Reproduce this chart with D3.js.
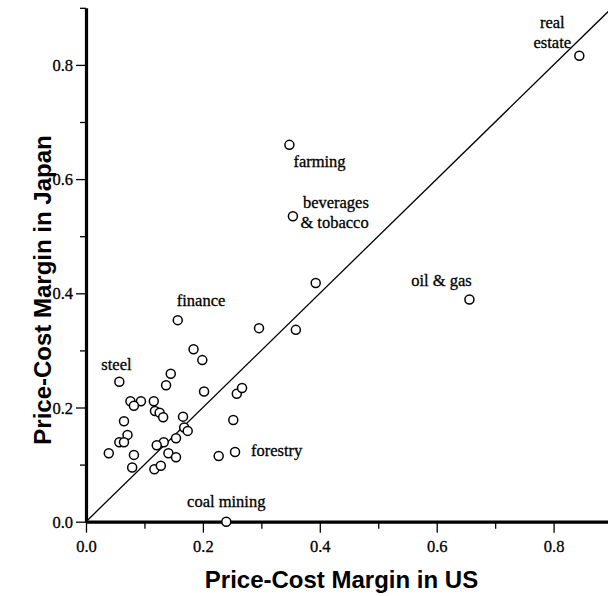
<!DOCTYPE html>
<html>
<head>
<meta charset="utf-8">
<script src="https://cdn.jsdelivr.net/npm/d3@7"></script>
<style>
  html, body { margin: 0; padding: 0; background: #fff; }
  svg { display: block; }
  .tick text { font-family: "Liberation Serif", "Times New Roman", serif; font-size: 16.5px; fill: #000; stroke: #000; stroke-width: 0.3px; }
  .note { font-family: "Liberation Serif", "Times New Roman", serif; font-size: 16.5px; fill: #000; stroke: #000; stroke-width: 0.3px; }
  .title { font-family: "Liberation Sans", Arial, Helvetica, sans-serif; font-size: 24px; font-weight: bold; fill: #000; }
</style>
</head>
<body>
<svg id="chart" width="608" height="596"></svg>
<script>
// Industry price-cost margins, US (x) vs Japan (y)
const industry = [
  "real estate", "farming", "beverages & tobacco", "oil & gas", "finance",
  "steel", "forestry", "coal mining",
  "", "", "", "", "", "", "", "", "", "", "", "", "", "", "", "", "", "", "",
  "", "", "", "", "", "", "", "", "", "", "", "", "", "", "", "", ""
];
const usMargin = [
  0.844, 0.348, 0.354, 0.656, 0.157, 0.057, 0.255, 0.240,
  0.393, 0.296, 0.359, 0.184, 0.199, 0.145, 0.137, 0.202, 0.258, 0.267,
  0.076, 0.094, 0.082, 0.116, 0.118, 0.126, 0.132, 0.166, 0.252, 0.065,
  0.071, 0.168, 0.174, 0.057, 0.065, 0.133, 0.121, 0.154, 0.039, 0.082,
  0.141, 0.154, 0.227, 0.079, 0.117, 0.128
];
const japanMargin = [
  0.816, 0.660, 0.535, 0.389, 0.353, 0.245, 0.122, 0.000,
  0.418, 0.339, 0.336, 0.302, 0.283, 0.259, 0.239, 0.228, 0.224, 0.234,
  0.211, 0.211, 0.203, 0.211, 0.194, 0.191, 0.183, 0.184, 0.178, 0.176,
  0.152, 0.165, 0.159, 0.139, 0.139, 0.139, 0.134, 0.146, 0.120, 0.117,
  0.120, 0.113, 0.115, 0.095, 0.092, 0.098
];
const majorTicks = [0.0, 0.2, 0.4, 0.6, 0.8];
const minorTicks = [0.1, 0.3, 0.5, 0.7, 0.9];
const tickLabels = ["0.0", "0.2", "0.4", "0.6", "0.8"];
const xTitle = "Price-Cost Margin in US";
const yTitle = "Price-Cost Margin in Japan";

// Label placement relative to each annotated point (pixels)
const labelLayout = {
  "real estate":         { lines: ["real", "estate"], dx: -27, dy: -28, anchor: "middle" },
  "farming":             { lines: ["farming"], dx: 4, dy: 22, anchor: "start" },
  "beverages & tobacco": { lines: ["beverages", "& tobacco"], dx: 10, dy: -8, anchor: "start", indent: [0, -2.5] },
  "oil & gas":           { lines: ["oil & gas"], dx: -28, dy: -14, anchor: "middle" },
  "finance":             { lines: ["finance"], dx: -1, dy: -14, anchor: "start" },
  "steel":               { lines: ["steel"], dx: -18, dy: -12, anchor: "start" },
  "forestry":            { lines: ["forestry"], dx: 16, dy: 4, anchor: "start" },
  "coal mining":         { lines: ["coal mining"], dx: 0, dy: -15, anchor: "middle" }
};

const points = usMargin.map((u, i) => ({ us: u, jp: japanMargin[i], name: industry[i] }));

const svg = d3.select("#chart");
const x = d3.scaleLinear().domain([0, 0.9]).range([86, 86 + 0.9 * 584.5]);
const y = d3.scaleLinear().domain([0, 0.9]).range([521.7, 521.7 - 0.9 * 571]);

// 45-degree reference line
svg.append("line")
  .attr("x1", x(0)).attr("y1", y(0))
  .attr("x2", x(0.9)).attr("y2", y(0.9))
  .attr("stroke", "#000").attr("stroke-width", 1.3);

// X axis: minor ticks, then major ticks with labels and the heavy baseline
const gxMinor = svg.append("g").attr("transform", `translate(0,${y(0)})`)
  .call(d3.axisBottom(x).tickValues(minorTicks).tickSize(7).tickSizeOuter(0).tickFormat(""));
gxMinor.select(".domain").remove();
const gx = svg.append("g").attr("transform", `translate(0,${y(0)})`)
  .call(d3.axisBottom(x).tickValues(majorTicks).tickSize(11).tickSizeOuter(0)
    .tickFormat((d, i) => tickLabels[i]));
gx.selectAll(".tick text").attr("y", 30).attr("dy", 0);

// Y axis
const gyMinor = svg.append("g").attr("transform", `translate(${x(0)},0)`)
  .call(d3.axisLeft(y).tickValues(minorTicks).tickSize(6).tickSizeOuter(0).tickFormat(""));
gyMinor.select(".domain").remove();
const gy = svg.append("g").attr("transform", `translate(${x(0)},0)`)
  .call(d3.axisLeft(y).tickValues(majorTicks).tickSize(10).tickSizeOuter(0)
    .tickFormat((d, i) => tickLabels[i]));
gy.selectAll(".tick text").attr("x", -13).attr("dy", "0.34em");

svg.selectAll(".tick line").attr("stroke", "#000").attr("stroke-width", 1.3);
svg.selectAll(".domain").attr("stroke", "#000").attr("stroke-width", 3.2);

// Points
svg.append("g").selectAll("circle")
  .data(points)
  .join("circle")
  .attr("cx", d => x(d.us))
  .attr("cy", d => y(d.jp))
  .attr("r", 4.5)
  .attr("fill", "#fff")
  .attr("stroke", "#000")
  .attr("stroke-width", 1.5);

// Industry labels
const notes = svg.append("g");
points.filter(d => d.name && labelLayout[d.name]).forEach(d => {
  const L = labelLayout[d.name];
  L.lines.forEach((line, k) => {
    notes.append("text")
      .attr("class", "note")
      .attr("x", x(d.us) + L.dx + (L.indent ? L.indent[k] : 0))
      .attr("y", y(d.jp) + L.dy + k * 20)
      .attr("text-anchor", L.anchor)
      .text(line);
  });
});

// Axis titles
svg.append("text").attr("class", "title")
  .attr("x", 341.5).attr("y", 588)
  .attr("text-anchor", "middle")
  .text(xTitle);
svg.append("text").attr("class", "title")
  .attr("transform", "translate(51,290) rotate(-90)")
  .attr("text-anchor", "middle")
  .text(yTitle);
</script>
</body>
</html>
